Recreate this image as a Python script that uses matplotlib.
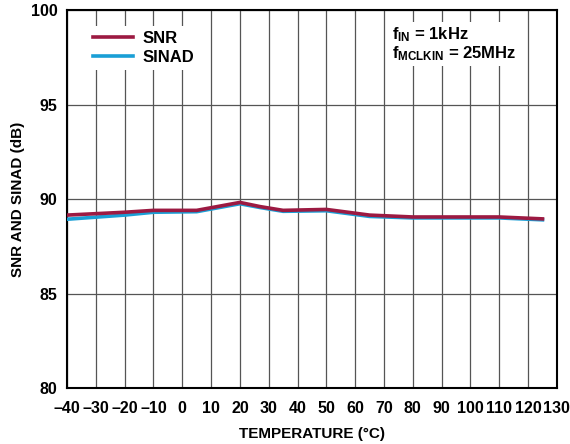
import matplotlib.pyplot as plt
import numpy as np

plt.rcParams['font.family'] = ['Liberation Sans', 'DejaVu Sans']
plt.rcParams['font.weight'] = 'bold'
plt.rcParams['mathtext.fontset'] = 'custom'
plt.rcParams['mathtext.rm'] = 'Liberation Sans:bold'
plt.rcParams['mathtext.bf'] = 'Liberation Sans:bold'
plt.rcParams['mathtext.it'] = 'Liberation Sans:bold'

temp = [-40, -20, -10, 5, 20, 27, 35, 50, 65, 80, 110, 125]
snr = [89.15, 89.3, 89.4, 89.4, 89.82, 89.6, 89.4, 89.45, 89.15, 89.05, 89.05, 88.95]
sinad = [88.93, 89.15, 89.3, 89.33, 89.75, 89.55, 89.35, 89.38, 89.08, 89.0, 89.0, 88.9]

xticks = list(range(-40, 140, 10))
xlabels = [str(t).replace('-', '\u2013') for t in xticks]
yticks = [80, 85, 90, 95, 100]

fig = plt.figure(figsize=(5.7, 4.44), dpi=100)
ax = fig.add_axes([0.1175, 0.126, 0.8595, 0.8515])

ax.plot(temp, sinad, color='#1a9fd6', lw=2.6, label='SINAD', zorder=3)
ax.plot(temp, snr, color='#9c1a42', lw=2.6, label='SNR', zorder=4)

ax.set_xlim(-40, 130)
ax.set_ylim(80, 100)
ax.set_xticks(xticks)
ax.set_xticklabels(xlabels)
ax.set_yticks(yticks)
ax.tick_params(length=0, labelsize=11.5)
ax.tick_params(axis='x', pad=9)
ax.tick_params(axis='y', pad=7)
ax.grid(True, color='#555555', lw=0.9)
for s in ax.spines.values():
    s.set_linewidth(1.5)

ax.set_xlabel('TEMPERATURE (°C)', fontsize=11, fontweight='bold', labelpad=8)
ax.set_ylabel('SNR AND SINAD (dB)', fontsize=11, fontweight='bold', labelpad=4)

h, l = ax.get_legend_handles_labels()
leg = ax.legend(h[::-1], l[::-1], loc='upper left', bbox_to_anchor=(0.025, 0.98),
                frameon=True, fancybox=False, edgecolor='none', framealpha=1,
                fontsize=12, handlelength=2.4, handletextpad=0.6,
                borderpad=0.3, labelspacing=0.25)

ax.text(0.663, 0.96, '$\\mathrm{f_{IN}}$ = 1kHz\n$\\mathrm{f_{MCLKIN}}$ = 25MHz',
        transform=ax.transAxes, fontsize=12, fontweight='bold', va='top', ha='left',
        bbox=dict(facecolor='white', edgecolor='none', pad=2), linespacing=1.05)

fig.savefig('out.png', dpi=100)
